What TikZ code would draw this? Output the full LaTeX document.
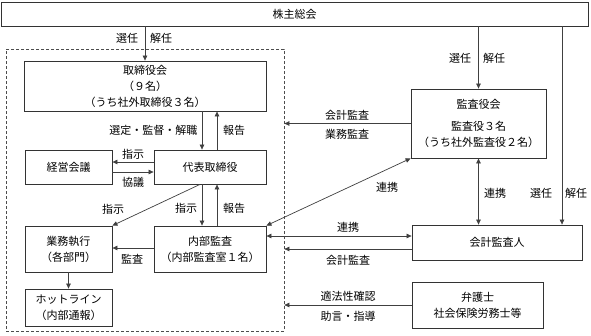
\documentclass[tikz,border=0pt]{standalone}
\usepackage{fontspec}
\setmainfont{Noto Sans CJK JP}
\usetikzlibrary{arrows.meta}
\begin{document}
\begin{tikzpicture}[x=1pt,y=-1pt,
  font=\fontsize{11}{16}\selectfont,
  box/.style={draw=black!80,line width=0.8pt,align=center,inner sep=0pt,anchor=center},
  lbl/.style={inner sep=0pt,anchor=center},
  ln/.style={draw=black!75,line width=0.7pt},
  arr/.style={ln,-{Triangle[length=5pt,width=4.5pt]}},
  dbl/.style={ln,{Triangle[length=5pt,width=4.5pt]}-{Triangle[length=5pt,width=4.5pt]}}]
\useasboundingbox (0,0) rectangle (591,335);
\fill[white] (0,0) rectangle (591,335);
% dashed frame
\node[draw=black!70,line width=0.7pt,dash pattern=on 3pt off 2pt,minimum width=278pt,minimum height=282pt,inner sep=0pt] (dash) at (145,190) {};
% boxes
\node[box,minimum width=587pt,minimum height=24pt] (kabu) at (294.5,14) {株主総会};
\node[box,minimum width=242pt,minimum height=50pt] (tori) at (145,86) {取締役会\\（９名）\\（うち社外取締役３名）};
\node[box,minimum width=112pt,minimum height=34pt] (daihyo) at (210,167) {代表取締役};
\node[box,minimum width=87pt,minimum height=34pt] (keiei) at (68.5,167) {経営会議};
\node[box,minimum width=87pt,minimum height=46pt] (gyomu) at (68.5,249) {業務執行\\（各部門）};
\node[box,minimum width=112pt,minimum height=46pt] (naibu) at (210,249) {内部監査\\（内部監査室１名）};
\node[box,minimum width=87pt,minimum height=37pt] (hot) at (68.5,307.5) {ホットライン\\（内部通報）};
\node[box,minimum width=135pt,minimum height=69pt] (kansa) at (478.5,123.5) {監査役会\\[6pt]監査役３名\\（うち社外監査役２名）};
\node[box,minimum width=170pt,minimum height=35pt] (kaikei) at (497,242.5) {会計監査人};
\node[box,minimum width=131pt,minimum height=46pt] (bengo) at (477.5,305) {弁護士\\社会保険労務士等};
% connectors
\draw[arr] (kabu.south -| 145,0) -- (tori.north -| 145,0);
\draw[arr] (tori.south -| 202,0) -- (daihyo.north -| 202,0);
\draw[arr] (daihyo.north -| 217,0) -- (tori.south -| 217,0);
\draw[arr] (daihyo.west |- 0,162) -- (keiei.east |- 0,162);
\draw[arr] (keiei.east |- 0,172) -- (daihyo.west |- 0,172);
\draw[arr] (daihyo.south -| 200,0) -- (gyomu.north east);
\draw[arr] (daihyo.south -| 202,0) -- (naibu.north -| 202,0);
\draw[arr] (naibu.north -| 217,0) -- (daihyo.south -| 217,0);
\draw[arr] (naibu.west |- 0,248) -- (gyomu.east |- 0,248);
\draw[arr] (gyomu.south) -- (hot.north);
\draw[arr] (kabu.south -| kansa.north) -- (kansa.north);
\draw[arr] (kabu.south -| 562,0) -- (kaikei.north -| 562,0);
\draw[dbl] (kansa.south) -- (kansa.south |- kaikei.north);
\draw[arr] (kansa.west) -- (kansa.west -| dash.east);
\draw[dbl] (kansa.south west) -- (naibu.north east);
\draw[dbl] (naibu.east |- 0,236) -- (kaikei.west |- 0,236);
\draw[arr] (kaikei.west |- 0,249) -- (dash.east |- 0,249);
\draw[arr] (bengo.west) -- (bengo.west -| dash.east);
% labels
\node[lbl] (l1) at (127,38) {選任};
\node[lbl] (l2) at (161,38) {解任};
\node[lbl] (l3) at (460,58) {選任};
\node[lbl] (l4) at (494,58) {解任};
\node[lbl] (l5) at (541,193) {選任};
\node[lbl] (l6) at (576,193) {解任};
\node[lbl,anchor=east] (l7) at (197.5,130) {選定・監督・解職};
\node[lbl] (l8) at (234,130) {報告};
\node[lbl] (l9) at (133,154) {指示};
\node[lbl] (l10) at (133,182) {協議};
\node[lbl] (l11) at (113,209) {指示};
\node[lbl] (l12) at (186,208) {指示};
\node[lbl] (l13) at (234,208) {報告};
\node[lbl] (l14) at (132,259) {監査};
\node[lbl] (l15) at (347,115) {会計監査};
\node[lbl] (l16) at (347,134) {業務監査};
\node[lbl] (l17) at (387,187) {連携};
\node[lbl] (l18) at (348,227) {連携};
\node[lbl] (l19) at (348,260) {会計監査};
\node[lbl] (l20) at (495,193) {連携};
\node[lbl] (l21) at (348,296) {適法性確認};
\node[lbl] (l22) at (348,316) {助言・指導};
\end{tikzpicture}
\end{document}
